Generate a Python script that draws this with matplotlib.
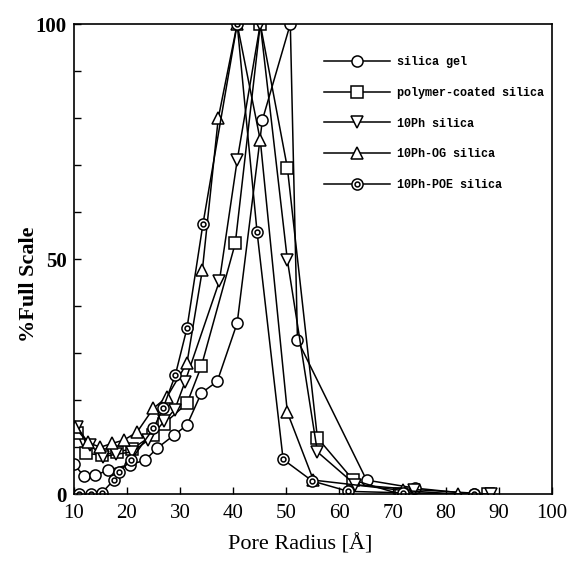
import matplotlib
matplotlib.use("Agg")
import matplotlib.pyplot as plt
from matplotlib.legend_handler import HandlerTuple

# pore radius (A) / % full scale
gel_x = [10, 11.9, 14, 16.4, 20.5, 23.4, 25.7, 28.9, 31.3, 34, 37, 40.75, 45.5, 50.75, 52.1, 65.1, 74.2, 85.3]
gel_y = [6.5, 3.8, 4, 5.1, 6.3, 7.2, 9.8, 12.6, 14.7, 21.5, 24, 36.4, 79.6, 100, 32.8, 3, 1.3, 0]

poly_x = [10.6, 12.3, 15.3, 18.1, 20.9, 24.9, 27, 31.3, 34, 40.4, 45.1, 50.2, 55.85, 62.6, 71.5, 87.9]
poly_y = [13, 8.7, 8.3, 9, 9.6, 12.6, 15, 19.3, 27.2, 53.4, 100, 69.4, 12, 3, 0, 0]

ph_x = [10.6, 13, 15.5, 18, 21, 24, 27, 29, 30.9, 37.4, 40.75, 45.1, 50.2, 55.85, 63, 74, 88.5]
ph_y = [14.3, 10.5, 8, 8.5, 9, 11.5, 15.5, 18, 23.8, 45.3, 71, 100, 49.8, 9, 2, 1, 0]

og_x = [10.2, 12.6, 15, 17.2, 19.4, 21.9, 25, 27.5, 31.3, 34.2, 37.2, 40.75, 45.1, 50.2, 55.1, 71.9, 82.3]
og_y = [14.3, 11, 10, 10.8, 11.5, 13.2, 18.3, 20.6, 27.9, 47.7, 80, 100, 75.3, 17.4, 3, 0.8, 0]

poe_x = [10.9, 13.2, 15.3, 17.5, 18.5, 20.75, 25, 26.8, 29.1, 31.3, 34.3, 40.75, 44.5, 49.4, 54.9, 61.7, 72, 85.3]
poe_y = [0, 0, 0.3, 3, 4.7, 7.2, 14, 18.3, 25.3, 35.3, 57.4, 100, 55.7, 7.4, 2.8, 0.6, 0.3, 0]

labels = ["silica gel", "polymer-coated silica", "10Ph silica", "10Ph-OG silica", "10Ph-POE silica"]

plt.rcParams["font.family"] = ["Liberation Serif", "DejaVu Serif"]

fig = plt.figure(figsize=(5.72, 5.72), dpi=100)
ax = fig.add_axes([0.129, 0.136, 0.836, 0.822])

kw = dict(color="black", lw=1.1, mfc="white", mec="black", mew=1.1)
h1, = ax.plot(gel_x, gel_y, marker="o", ms=8, **kw)
h2, = ax.plot(poly_x, poly_y, marker="s", ms=8, **kw)
h3, = ax.plot(ph_x, ph_y, marker="v", ms=8.5, **kw)
h4, = ax.plot(og_x, og_y, marker="^", ms=8.5, **kw)
h5, = ax.plot(poe_x, poe_y, marker="o", ms=8, **kw)
h5b, = ax.plot(poe_x, poe_y, ls="none", marker="o", ms=3.5, mfc="white", mec="black", mew=1.1)

leg = ax.legend([h1, h2, h3, h4, (h5, h5b)], labels,
                handler_map={tuple: HandlerTuple(ndivide=1, pad=0)},
                loc="upper left", bbox_to_anchor=(0.5, 0.955), frameon=False,
                handlelength=5.6, labelspacing=1.6, handletextpad=0.6,
                prop={"family": ["Liberation Mono", "DejaVu Sans Mono"], "weight": "bold", "size": 8.5})

ax.set_xlim(10, 100)
ax.set_ylim(0, 100)
ax.set_xticks(range(10, 101, 10))
ax.set_yticks(range(0, 101, 10))
ax.set_yticklabels(["0", "", "", "", "", "50", "", "", "", "", "100"], fontweight="bold")
ax.tick_params(direction="in", length=5, width=1, labelsize=15)
ax.tick_params(axis="x", pad=7)
ax.tick_params(axis="y", pad=5)
for s in ax.spines.values():
    s.set_linewidth(1.2)

ax.set_xlabel("Pore Radius [Å]", fontsize=16)
ax.set_ylabel("%Full Scale", fontsize=16, fontweight="bold")
ax.xaxis.set_label_coords(0.473, -0.085)
ax.yaxis.set_label_coords(-0.072, 0.447)

fig.savefig("out.png", dpi=100)
